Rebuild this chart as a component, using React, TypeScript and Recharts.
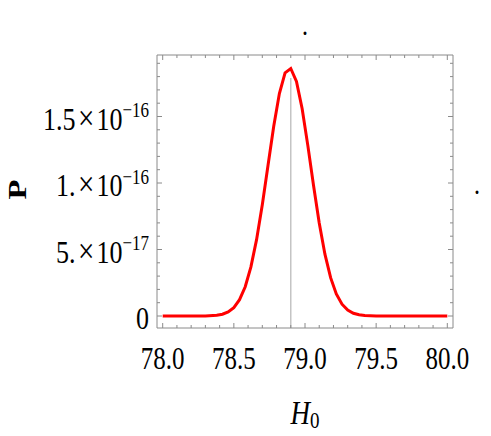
import React from 'react';
import { LineChart, Line, XAxis, YAxis, ReferenceLine, Label } from 'recharts';

// H0 sample positions and probability values
const h0Values = [
  78.0, 78.1, 78.2, 78.3, 78.38, 78.42, 78.46, 78.5, 78.54, 78.58, 78.62, 78.66,
  78.7, 78.74, 78.78, 78.82, 78.86, 78.9, 78.94, 78.98, 79.02, 79.06, 79.1, 79.14,
  79.18, 79.22, 79.26, 79.3, 79.34, 79.38, 79.42, 79.5, 79.6, 79.7, 79.8, 79.9, 80.0,
];
const pValues = [
  0, 0, 0.0001e-16, 0.0008e-16, 0.0058e-16, 0.0137e-16, 0.0306e-16, 0.0634e-16,
  0.1225e-16, 0.22e-16, 0.369e-16, 0.576e-16, 0.836e-16, 1.131e-16, 1.425e-16,
  1.673e-16, 1.828e-16, 1.861e-16, 1.764e-16, 1.558e-16, 1.281e-16, 0.981e-16,
  0.7e-16, 0.465e-16, 0.288e-16, 0.166e-16, 0.089e-16, 0.0445e-16, 0.0207e-16,
  0.009e-16, 0.0036e-16, 0.0003e-16, 0, 0, 0, 0, 0,
];

// best-fit marker
const bestH0 = 78.9;
const bestMarkerTop = 1.79e-16;

// axes
const xDomain = [77.96, 80.04];
const yDomain = [-0.0902e-16, 1.9624e-16];
const xTicks = [
  78.0, 78.1, 78.2, 78.3, 78.4, 78.5, 78.6, 78.7, 78.8, 78.9, 79.0,
  79.1, 79.2, 79.3, 79.4, 79.5, 79.6, 79.7, 79.8, 79.9, 80.0,
];
const xMajorTicks = [78.0, 78.5, 79.0, 79.5, 80.0];
const xTickLabels = ['78.0', '78.5', '79.0', '79.5', '80.0'];
const yTicks = [
  0, 0.1e-16, 0.2e-16, 0.3e-16, 0.4e-16, 0.5e-16, 0.6e-16, 0.7e-16, 0.8e-16, 0.9e-16,
  1.0e-16, 1.1e-16, 1.2e-16, 1.3e-16, 1.4e-16, 1.5e-16, 1.6e-16, 1.7e-16, 1.8e-16, 1.9e-16,
];
const yMajorTicks = [0, 0.5e-16, 1.0e-16, 1.5e-16];
const yMantissas = ['0', '5.', '1.', '1.5'];
const yExponents = ['', '\u221217', '\u221216', '\u221216'];

const data = h0Values.map((h0, i) => ({ h0, p: pValues[i] }));

const FRAME = '#8a8a8a';
const FONT = '"Liberation Serif", "Times New Roman", serif';
const SY = 1.25;

const majorIndex = (v: number, majors: number[], tol: number) =>
  majors.findIndex((m) => Math.abs(m - v) < tol);

const BottomTick = (props: any) => {
  const { x, y, payload } = props;
  const idx = majorIndex(payload.value, xMajorTicks, 1e-6);
  const major = idx >= 0;
  return (
    <g>
      <line x1={x} y1={y} x2={x} y2={y - (major ? 5 : 3)} stroke={FRAME} strokeWidth={1} />
      {major && (
        <text
          transform={`translate(${x},${y}) scale(1,${SY})`}
          x={0}
          y={32.8}
          textAnchor="middle"
          fontFamily={FONT}
          fontSize={25}
          fill="#000"
        >
          {xTickLabels[idx]}
        </text>
      )}
    </g>
  );
};

const TopTick = (props: any) => {
  const { x, y, payload } = props;
  const major = majorIndex(payload.value, xMajorTicks, 1e-6) >= 0;
  return <line x1={x} y1={y} x2={x} y2={y + (major ? 5 : 3)} stroke={FRAME} strokeWidth={1} />;
};

const LeftTick = (props: any) => {
  const { x, y, payload } = props;
  const idx = majorIndex(payload.value, yMajorTicks, 1e-20);
  const major = idx >= 0;
  return (
    <g>
      <line x1={x} y1={y} x2={x + (major ? 5 : 3)} y2={y} stroke={FRAME} strokeWidth={1} />
      {major && (
        <text
          transform={`translate(${x - 8},${y}) scale(1,${SY})`}
          x={0}
          y={10.6}
          textAnchor="end"
          fontFamily={FONT}
          fontSize={26}
          fill="#000"
        >
          {yExponents[idx] ? (
            <>
              {yMantissas[idx]}
              <tspan fontSize={29}>{'\u200A\u00D7'}</tspan>
              {'\u200A10'}
              <tspan dy={-10} fontSize={17}>
                {yExponents[idx]}
              </tspan>
            </>
          ) : (
            yMantissas[idx]
          )}
        </text>
      )}
    </g>
  );
};

const RightTick = (props: any) => {
  const { x, y, payload } = props;
  const major = majorIndex(payload.value, yMajorTicks, 1e-20) >= 0;
  return <line x1={x} y1={y} x2={x - (major ? 5 : 3)} y2={y} stroke={FRAME} strokeWidth={1} />;
};

export default function App() {
  return (
    <div style={{ position: 'absolute', left: 0, top: 0, width: 491, height: 436, background: '#fff' }}>
      <LineChart width={491} height={436} data={data} margin={{ top: 50, right: 33, bottom: 48, left: 7 }}>
        <XAxis
          dataKey="h0"
          type="number"
          domain={xDomain}
          allowDataOverflow
          ticks={xTicks}
          interval={0}
          tickSize={0}
          tickMargin={0}
          tickLine={false}
          tick={<BottomTick />}
          height={60}
          axisLine={{ stroke: FRAME, strokeWidth: 1 }}
        >
          <Label
            content={(p: any) => {
              const vb = p.viewBox || { x: 157, y: 328, width: 296 };
              const cx = vb.x + vb.width / 2;
              return (
                <text
                  transform={`translate(${cx},${vb.y + 96}) scale(1,${SY})`}
                  textAnchor="middle"
                  fontFamily={FONT}
                  fontSize={27}
                  fontStyle="italic"
                  fill="#000"
                >
                  H
                  <tspan fontStyle="normal" fontSize={19} dy={3}>
                    0
                  </tspan>
                </text>
              );
            }}
          />
        </XAxis>
        <XAxis
          xAxisId="top"
          orientation="top"
          dataKey="h0"
          type="number"
          domain={xDomain}
          allowDataOverflow
          ticks={xTicks}
          interval={0}
          tickSize={0}
          tickMargin={0}
          tickLine={false}
          tick={<TopTick />}
          height={5}
          axisLine={{ stroke: FRAME, strokeWidth: 1 }}
        >
          <Label
            content={(p: any) => {
              const vb = p.viewBox || { x: 157, y: 50, width: 296 };
              const cx = vb.x + vb.width / 2;
              return (
                <text
                  transform={`translate(${cx},35) scale(1,${SY})`}
                  textAnchor="middle"
                  fontFamily={FONT}
                  fontSize={24}
                  fill="#000"
                >
                  .
                </text>
              );
            }}
          />
        </XAxis>
        <YAxis
          type="number"
          domain={yDomain}
          allowDataOverflow
          ticks={yTicks}
          interval={0}
          tickSize={0}
          tickMargin={0}
          tickLine={false}
          tick={<LeftTick />}
          width={150}
          axisLine={{ stroke: FRAME, strokeWidth: 1 }}
        >
          <Label
            content={(p: any) => {
              const vb = p.viewBox || { x: 7, y: 55, height: 273 };
              const cy = vb.y + vb.height / 2;
              return (
                <text
                  transform={`translate(26,${cy - 2}) scale(1,${SY}) rotate(-90)`}
                  textAnchor="middle"
                  fontFamily={FONT}
                  fontSize={26}
                  fontWeight="bold"
                  fill="#000"
                >
                  P
                </text>
              );
            }}
          />
        </YAxis>
        <YAxis
          yAxisId="right"
          orientation="right"
          type="number"
          domain={yDomain}
          allowDataOverflow
          ticks={yTicks}
          interval={0}
          tickSize={0}
          tickMargin={0}
          tickLine={false}
          tick={<RightTick />}
          width={5}
          axisLine={{ stroke: FRAME, strokeWidth: 1 }}
        >
          <Label
            content={(p: any) => {
              const vb = p.viewBox || { x: 453, y: 55, height: 273 };
              const cy = vb.y + vb.height / 2;
              return (
                <text
                  transform={`translate(477,${cy + 2}) scale(1,${SY})`}
                  textAnchor="middle"
                  fontFamily={FONT}
                  fontSize={24}
                  fill="#000"
                >
                  .
                </text>
              );
            }}
          />
        </YAxis>
        <ReferenceLine
          segment={[
            { x: bestH0, y: yDomain[0] },
            { x: bestH0, y: bestMarkerTop },
          ]}
          stroke="#c4c4c4"
          strokeWidth={1.5}
        />
        <Line
          xAxisId="top"
          yAxisId="right"
          dataKey="p"
          stroke="none"
          dot={false}
          activeDot={false}
          isAnimationActive={false}
        />
        <Line
          dataKey="p"
          type="linear"
          stroke="#ff0000"
          strokeWidth={3}
          dot={false}
          activeDot={false}
          isAnimationActive={false}
        />
      </LineChart>
    </div>
  );
}
